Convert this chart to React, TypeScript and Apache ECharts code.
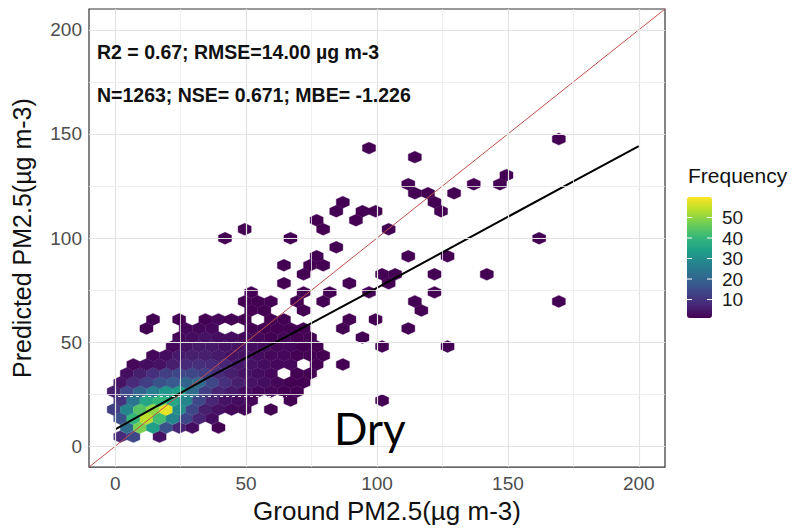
import React, { useEffect, useRef } from "react";
import * as echarts from "echarts";

// ---- axes ----
const axisMin = -10;
const axisMax = 210;
const xTicks = [0, 50, 100, 150, 200];
const yTicks = [0, 50, 100, 150, 200];
const majorGrid = [0, 50, 100, 150, 200];
const minorGrid = [25, 75, 125, 175];

// ---- hexbin (binwidth 5 µg m-3, row spacing 5*sqrt(3)/2) ----
const HEX_W = 5;
const HEX_ROW = 4.33;
// each segment: row centre y, centre x of first cell, counts of consecutive cells
const hexRowY = [
  4.63, 8.96, 13.29, 17.62, 21.95, 21.95, 26.28, 30.61, 34.94, 39.27,
  43.6, 47.93, 47.93, 52.26, 56.59, 60.92, 65.25, 69.58, 69.58, 73.91,
  78.24, 82.57, 86.9, 91.23, 95.56, 99.89, 99.89, 104.22, 108.55, 112.88,
  117.21, 121.54, 125.87, 130.2, 138.86, 143.19, 147.52,
];
const hexRowX0 = [
  1.95, 4.45, 1.95, -0.55, 1.95, 101.95, -0.55, 1.95, 4.45, 6.95,
  14.45, 21.95, 126.95, 24.45, 11.95, 14.45, 51.95, 49.45, 169.45, 51.95,
  64.45, 71.95, 64.45, 76.95, 84.45, 41.95, 161.95, 49.45, 76.95, 84.45,
  86.95, 114.45, 111.95, 149.45, 114.45, 96.95, 169.45,
];
const hexRowCounts = [
  [8, 14, 0, 4],
  [22, 48, 34, 16, 7, 3, 0, 1],
  [16, 40, 54, 42, 28, 14, 7, 3],
  [12, 28, 44, 50, 58, 30, 14, 6, 4, 2, 2, 0, 1],
  [10, 24, 36, 40, 36, 28, 14, 7, 4, 3, 2, 0, 0, 1],
  [1],
  [6, 14, 20, 26, 32, 34, 22, 12, 7, 5, 3, 2, 2, 1, 1],
  [4, 8, 12, 16, 18, 20, 22, 14, 9, 6, 4, 3, 2, 1, 1],
  [3, 6, 9, 12, 14, 14, 12, 8, 6, 4, 3, 2, 0, 1, 1],
  [2, 3, 4, 6, 8, 9, 8, 7, 5, 4, 3, 2, 2, 0, 1, 0, 1],
  [2, 3, 5, 6, 6, 5, 4, 4, 3, 2, 2, 1, 1, 1],
  [2, 4, 5, 5, 4, 4, 3, 3, 2, 2, 1, 1, 0, 0, 0, 0, 1],
  [1],
  [2, 3, 4, 3, 3, 2, 2, 1, 2, 1, 1, 0, 0, 0, 1],
  [1, 0, 0, 2, 2, 2, 0, 0, 1, 1, 1, 1, 1, 0, 0, 1, 0, 0, 0, 0, 1],
  [1, 0, 1, 0, 1, 2, 1, 1, 0, 1, 1, 0, 0, 0, 0, 1, 0, 1],
  [1, 1, 0, 0, 1, 0, 0, 0, 0, 0, 0, 0, 0, 1],
  [1, 1, 1, 0, 1, 0, 1, 0, 0, 0, 0, 0, 0, 1],
  [1],
  [1, 0, 0, 0, 1, 0, 1, 0, 0, 1, 0, 0, 0, 0, 1],
  [1, 0, 0, 0, 0, 1, 0, 0, 1],
  [1, 0, 0, 0, 0, 0, 1, 1, 0, 0, 1, 0, 0, 0, 1],
  [1, 0, 1, 1],
  [1, 0, 0, 0, 0, 0, 0, 1, 0, 0, 1],
  [1],
  [1, 0, 0, 0, 0, 1],
  [1],
  [1, 0, 0, 0, 0, 0, 1, 0, 0, 0, 0, 1],
  [1, 0, 0, 1],
  [1, 0, 1, 1, 0, 0, 0, 0, 1],
  [1, 0, 0, 0, 0, 0, 0, 1],
  [1, 1, 0, 1],
  [1, 0, 0, 0, 0, 1, 0, 1],
  [1],
  [1],
  [1],
  [1],
];

// ---- reference lines ----
const oneToOneX = [-10, 210];
const oneToOneY = [-10, 210];
const fitX = [0, 36, 65, 94, 178, 200];
const fitY = [8.1, 33.3, 52.4, 72, 129.3, 144.2];

// ---- colour scale ----
const freqMin = 1;
const freqMax = 60;
const freqTicks = [10, 20, 30, 40, 50];
const viridis = [
  "#440154", "#482878", "#3e4989", "#31688e", "#26828e",
  "#1f9e89", "#35b779", "#6ece58", "#b5de2b", "#fde725",
];

// ---- texts ----
const xTitle = "Ground PM2.5(µg m-3)";
const yTitle = "Predicted PM2.5(µg m-3)";
const statLine1 = "R2 = 0.67; RMSE=14.00 µg m-3";
const statLine2 = "N=1263; NSE= 0.671; MBE= -1.226";
const seasonLabel = "Dry";
const legendTitle = "Frequency";

const FONT = "'Liberation Sans', Arial, Helvetica, sans-serif";

export default function App() {
  const ref = useRef<HTMLDivElement>(null);

  useEffect(() => {
    document.body.style.margin = "0";
    const chart = echarts.init(ref.current as HTMLDivElement, null, { renderer: "svg" });

    const hexData: number[][] = [];
    hexRowCounts.forEach((row, r) => {
      row.forEach((n, i) => {
        if (n > 0) hexData.push([hexRowX0[r] + i * HEX_W, hexRowY[r], n]);
      });
    });

    const gridLineData: any[] = [];
    majorGrid.forEach((v) => {
      gridLineData.push({ xAxis: v, lineStyle: { color: "#e3e3e3", width: 1.2, type: "solid" } });
      gridLineData.push({ yAxis: v, lineStyle: { color: "#e3e3e3", width: 1.2, type: "solid" } });
    });
    minorGrid.forEach((v) => {
      gridLineData.push({ xAxis: v, lineStyle: { color: "#ebebeb", width: 0.8, type: "solid" } });
      gridLineData.push({ yAxis: v, lineStyle: { color: "#ebebeb", width: 0.8, type: "solid" } });
    });

    // legend bar geometry
    const barLeft = 687;
    const barTop = 197;
    const barW = 25;
    const barH = 121;
    const tickY = (v: number) => barTop + barH * (1 - (v - freqMin) / (freqMax - freqMin));
    const legendGraphics: any[] = [];
    freqTicks.forEach((v) => {
      const y = tickY(v);
      legendGraphics.push({
        type: "line", silent: true, z: 100,
        shape: { x1: barLeft, y1: y, x2: barLeft + 5, y2: y },
        style: { stroke: "#ffffff", lineWidth: 1 },
      });
      legendGraphics.push({
        type: "line", silent: true, z: 100,
        shape: { x1: barLeft + barW - 5, y1: y, x2: barLeft + barW, y2: y },
        style: { stroke: "#ffffff", lineWidth: 1 },
      });
      legendGraphics.push({
        type: "text", silent: true, z: 100,
        style: {
          text: String(v), x: 722, y: y,
          font: `19px ${FONT}`, fill: "#1a1a1a",
          textAlign: "left", align: "left", textVerticalAlign: "middle", verticalAlign: "middle",
        },
      });
    });

    const option: any = {
      animation: false,
      backgroundColor: "#ffffff",
      textStyle: { fontFamily: FONT },
      grid: {
        left: 89, right: 142, top: 9, bottom: 56,
        show: true, borderColor: "#333333", borderWidth: 1.2, backgroundColor: "transparent",
      },
      xAxis: {
        type: "value", min: axisMin, max: axisMax,
        name: xTitle, nameLocation: "middle", nameGap: 30,
        nameTextStyle: { fontSize: 26, color: "#111111", fontFamily: FONT, padding: [0, 0, 0, 20] },
        axisLine: { show: false },
        axisTick: { show: true, length: 4, customValues: xTicks, lineStyle: { color: "#333333", width: 1 } },
        axisLabel: { customValues: xTicks, fontSize: 19, color: "#4d4d4d", margin: 7, fontFamily: FONT },
        splitLine: { show: false },
      },
      yAxis: {
        type: "value", min: axisMin, max: axisMax,
        name: yTitle, nameLocation: "middle", nameGap: 55, nameRotate: 90,
        nameTextStyle: { fontSize: 25, color: "#111111", fontFamily: FONT },
        axisLine: { show: false },
        axisTick: { show: true, length: 4, customValues: yTicks, lineStyle: { color: "#333333", width: 1 } },
        axisLabel: { customValues: yTicks, fontSize: 19, color: "#4d4d4d", margin: 7, fontFamily: FONT },
        splitLine: { show: false },
      },
      visualMap: {
        type: "continuous",
        min: freqMin, max: freqMax,
        dimension: 2, seriesIndex: 1,
        calculable: false, showLabel: false, text: null,
        left: barLeft, top: barTop, itemWidth: barW, itemHeight: barH,
        padding: 0,
        inRange: { color: viridis },
      },
      graphic: [
        {
          type: "text", silent: true, z: 100,
          style: {
            text: statLine1, x: 97, y: 52, font: `bold 19.5px ${FONT}`, fill: "#111111",
            textAlign: "left", align: "left", textVerticalAlign: "middle", verticalAlign: "middle",
          },
        },
        {
          type: "text", silent: true, z: 100,
          style: {
            text: statLine2, x: 97, y: 95, font: `bold 19.5px ${FONT}`, fill: "#111111",
            textAlign: "left", align: "left", textVerticalAlign: "middle", verticalAlign: "middle",
          },
        },
        {
          type: "text", silent: true, z: 100,
          style: {
            text: seasonLabel, x: 334, y: 428, font: `44px Lato, 'Open Sans', sans-serif`, fill: "#000000",
            textAlign: "left", align: "left", textVerticalAlign: "middle", verticalAlign: "middle",
          },
        },
        {
          type: "text", silent: true, z: 100,
          style: {
            text: legendTitle, x: 688, y: 175, font: `21px ${FONT}`, fill: "#111111",
            textAlign: "left", align: "left", textVerticalAlign: "middle", verticalAlign: "middle",
          },
        },
        ...legendGraphics,
      ],
      series: [
        {
          type: "line", data: [], z: 1, silent: true,
          markLine: {
            silent: true, symbol: ["none", "none"], label: { show: false },
            animation: false, data: gridLineData,
          },
        },
        {
          type: "custom", z: 2, clip: true,
          encode: { x: 0, y: 1 },
          data: hexData,
          renderItem: (params: any, api: any) => {
            const c = api.coord([api.value(0), api.value(1)]);
            const hw = Math.abs(api.size([HEX_W, 0])[0]) / 2;
            const rowPx = Math.abs(api.size([0, HEX_ROW])[1]);
            const dy = (rowPx / Math.sqrt(3) / 2) * 1.15;
            const color = api.visual("color");
            return {
              type: "polygon",
              shape: {
                points: [
                  [c[0] + hw, c[1] - dy], [c[0], c[1] - 2 * dy], [c[0] - hw, c[1] - dy],
                  [c[0] - hw, c[1] + dy], [c[0], c[1] + 2 * dy], [c[0] + hw, c[1] + dy],
                ],
              },
              style: { fill: color, stroke: color, lineWidth: 0.4 },
            };
          },
        },
        {
          type: "line", z: 3, silent: true, symbol: "none",
          data: oneToOneX.map((x, i) => [x, oneToOneY[i]]),
          lineStyle: { color: "#c0504d", width: 1 },
          markLine: {
            silent: true, symbol: ["none", "none"], label: { show: false },
            lineStyle: { color: "#ffffff", width: 1, type: [3, 3] },
            data: [[{ coord: [1.1, 24.2] }, { coord: [65.6, 24.2] }]],
          },
        },
        {
          type: "line", z: 4, silent: true, symbol: "none",
          data: fitX.map((x, i) => [x, fitY[i]]),
          lineStyle: { color: "#000000", width: 2 },
        },
      ],
    };

    chart.setOption(option);
    return () => chart.dispose();
  }, []);

  return <div ref={ref} style={{ width: 807, height: 529 }} />;
}
